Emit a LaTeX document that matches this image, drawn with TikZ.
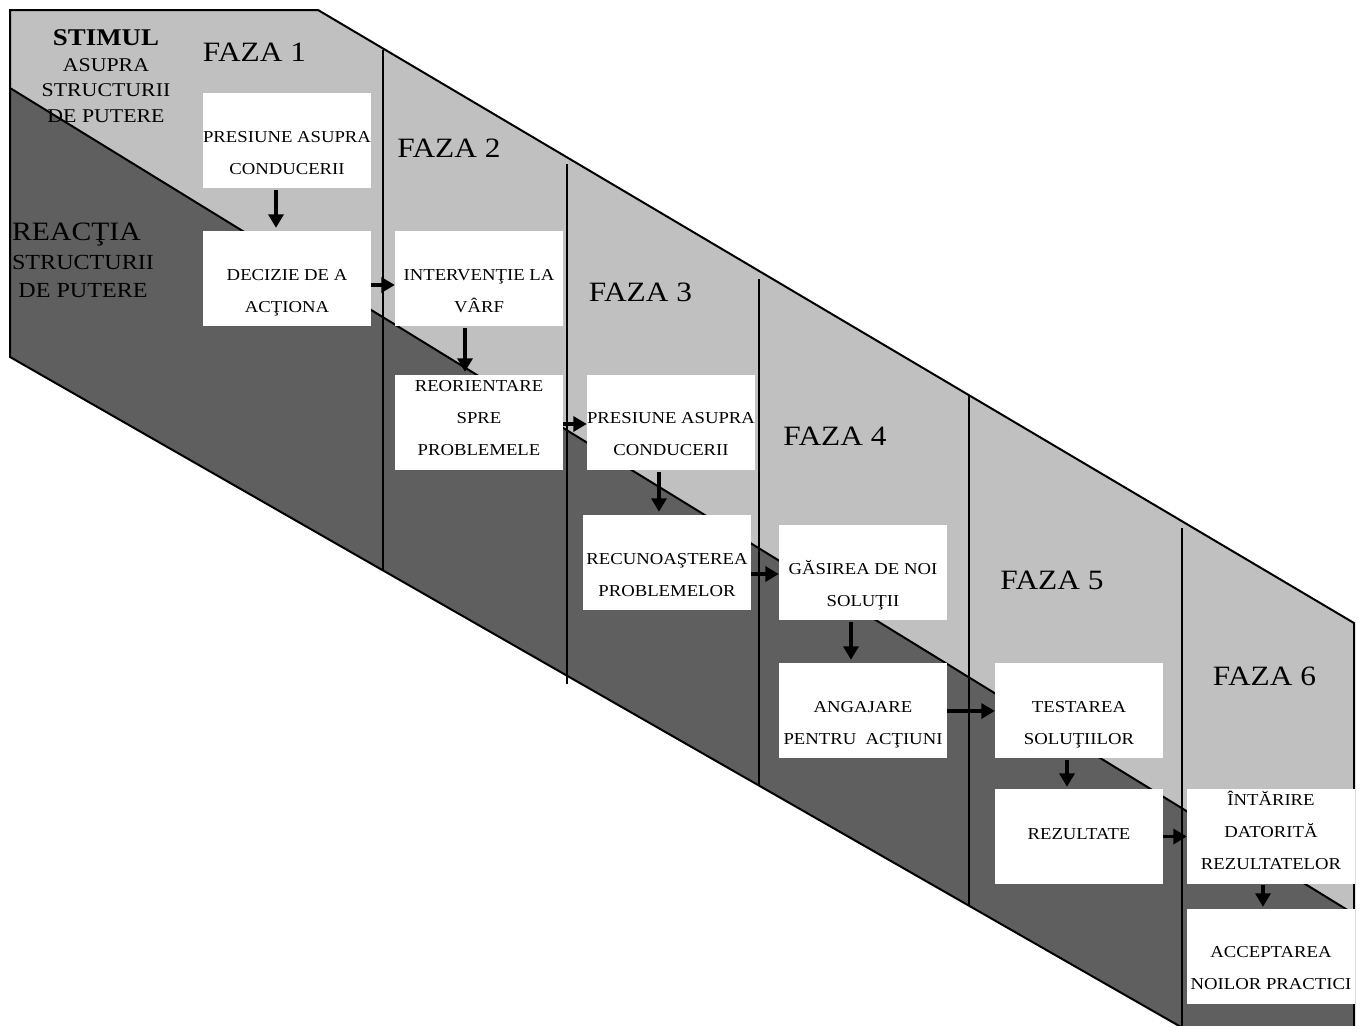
\documentclass[tikz,border=0pt]{standalone}
\usepackage{fontspec}
\setmainfont{Liberation Serif}[FakeStretch=1.12]
\usetikzlibrary{arrows.meta}
\definecolor{lightband}{HTML}{C0C0C0}
\definecolor{darkband}{HTML}{5F5F5F}
\tikzset{
  outline/.style={draw=black,line width=2pt,line join=miter},
  divider/.style={draw=black,line width=2pt},
  stepbox/.style={rectangle,fill=white,draw=none,inner sep=0pt,
    minimum width=168pt,minimum height=95pt},
  steptext/.style={anchor=base,align=center,inner sep=0pt,
    font=\fontsize{16.7}{32}\selectfont},
  phase/.style={anchor=base,inner sep=0pt,font=\fontsize{28}{32}\selectfont},
  flow/.style={line width=3.5pt,-{Triangle[length=13.5pt,width=15pt]}},
}
\begin{document}
\begin{tikzpicture}[x=1pt,y=-1pt]
\useasboundingbox (0,0) rectangle (1361,1026);
\clip (0,0) rectangle (1361,1026);

% bands: stimulus (light) and reaction (dark)
\fill[lightband] (10,10) -- (318,10) -- (1354,623) -- (1354,1126) -- (10,357) -- cycle;
\fill[darkband] (10,88) -- (1354,914) -- (1354,1126) -- (10,357) -- cycle;
\draw[outline] (10,88) -- (1354,914);

% phase dividers
\foreach \x/\ya/\yb in {383/50/570, 567/164/684, 759/279/785, 969/395/906, 1182/528/1040}
  \draw[divider] (\x,\ya) -- (\x,\yb);

% outer contour
\draw[outline] (10,10) -- (318,10) -- (1354,623) -- (1354,1126) -- (10,357) -- cycle;

% side headings (multi-line nodes are anchored at the baseline of their last line)
\node[anchor=base,inner sep=0pt,font=\bfseries\fontsize{24}{28}\selectfont] (stimul) at (106,45) {STIMUL};
\node[anchor=base,inner sep=0pt,align=center,font=\fontsize{19.5}{25.5}\selectfont] (stimulsub) at (106,122) {ASUPRA\\STRUCTURII\\DE PUTERE};
\node[anchor=base west,inner sep=0pt,font=\fontsize{26.5}{30}\selectfont] (reactia) at (12,240) {REACŢIA};
\node[anchor=base,inner sep=0pt,align=center,font=\fontsize{21.5}{28}\selectfont] (reactiasub) at (83,297) {STRUCTURII\\DE PUTERE};

% phase titles
\node[phase] (f1) at (254.5,61) {FAZA 1};
\node[phase] (f2) at (449,157) {FAZA 2};
\node[phase] (f3) at (640.5,301) {FAZA 3};
\node[phase] (f4) at (835,445) {FAZA 4};
\node[phase] (f5) at (1052,589) {FAZA 5};
\node[phase] (f6) at (1264.5,685) {FAZA 6};

% step boxes
\node[stepbox] (b1)  at (287,140.5) {};
\node[stepbox] (b2)  at (287,278.5) {};
\node[stepbox] (b3)  at (479,278.5) {};
\node[stepbox] (b4)  at (479,422.5) {};
\node[stepbox] (b5)  at (671,422.5) {};
\node[stepbox] (b6)  at (667,562.5) {};
\node[stepbox] (b7)  at (863,572.5) {};
\node[stepbox] (b8)  at (863,710.5) {};
\node[stepbox] (b9)  at (1079,710.5) {};
\node[stepbox] (b10) at (1079,836.5) {};
\node[stepbox] (b11) at (1271,836.5) {};
\node[stepbox] (b12) at (1271,956.5) {};

% step texts (anchored at the baseline of the last line)
\node[steptext] (t1)  at (287,174) {PRESIUNE ASUPRA\\CONDUCERII};
\node[steptext] (t2)  at (287,312) {DECIZIE DE A\\ACŢIONA};
\node[steptext] (t3)  at (479,312) {INTERVENŢIE LA\\VÂRF};
\node[steptext] (t4)  at (479,455) {REORIENTARE\\SPRE\\PROBLEMELE};
\node[steptext] (t5)  at (671,455) {PRESIUNE ASUPRA\\CONDUCERII};
\node[steptext] (t6)  at (667,596) {RECUNOAŞTEREA\\PROBLEMELOR};
\node[steptext] (t7)  at (863,606) {GĂSIREA DE NOI\\SOLUŢII};
\node[steptext] (t8)  at (863,744) {ANGAJARE\\PENTRU\ \ ACŢIUNI};
\node[steptext] (t9)  at (1079,744) {TESTAREA\\SOLUŢIILOR};
\node[steptext] (t10) at (1079,839) {REZULTATE};
\node[steptext] (t11) at (1271,869) {ÎNTĂRIRE\\DATORITĂ\\REZULTATELOR};
\node[steptext] (t12) at (1271,989) {ACCEPTAREA\\NOILOR PRACTICI};

% flow arrows
\draw[flow] ([xshift=-11pt,yshift=-2pt]b1.south) -- ([xshift=-11pt,yshift=3pt]b2.north);
\draw[flow] ([yshift=-6.5pt]b2.east) -- ([yshift=-6.5pt]b3.west);
\draw[flow] ([xshift=-14pt,yshift=-2pt]b3.south) -- ([xshift=-14pt,yshift=3pt]b4.north);
\draw[flow] ([yshift=-1.5pt]b4.east) -- ([yshift=-1.5pt]b5.west);
\draw[flow] ([xshift=-12pt,yshift=-2pt]b5.south) -- ([xshift=-8pt,yshift=3pt]b6.north);
\draw[flow] ([yshift=-11.5pt]b6.east) -- ([yshift=-1.5pt]b7.west);
\draw[flow] ([xshift=-12pt,yshift=-2pt]b7.south) -- ([xshift=-12pt,yshift=3pt]b8.north);
\draw[flow] ([yshift=-0.5pt]b8.east) -- ([yshift=-0.5pt]b9.west);
\draw[flow] ([xshift=-12pt,yshift=-2pt]b9.south) -- ([xshift=-12pt,yshift=2pt]b10.north);
\draw[flow] (b10.east) -- (b11.west);
\draw[flow] ([xshift=-8pt,yshift=-1pt]b11.south) -- ([xshift=-8pt,yshift=2pt]b12.north);
\end{tikzpicture}
\end{document}
